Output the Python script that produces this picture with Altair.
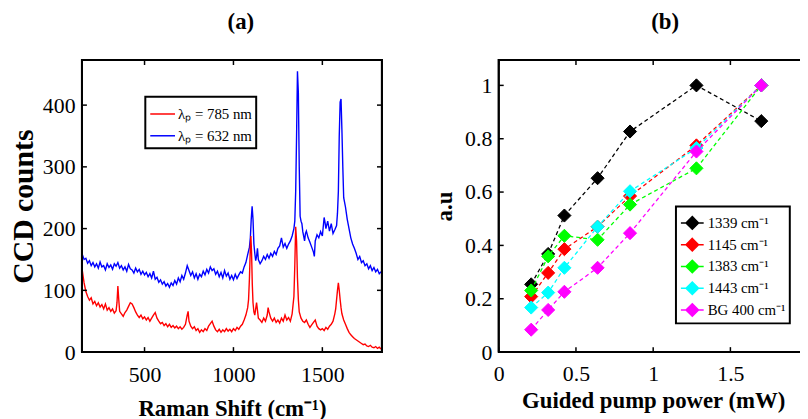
import altair as alt
import pandas as pd

FONT = "Liberation Serif"
INK = "#000000"

# ---------------- Panel (a): Raman spectra ----------------
red_shift = [150, 155, 160, 165, 170, 175, 180, 190, 200, 210, 220, 230, 240, 250, 260, 270, 280, 290, 300,
             310, 320, 330, 340, 345, 350, 355, 360, 370, 380, 390, 400, 410, 420, 430, 440, 450, 460, 470,
             480, 490, 500, 510, 520, 530, 540, 550, 560, 570, 580, 590, 600, 610, 620, 630, 640, 650, 660,
             670, 680, 690, 700, 710, 720, 730, 740, 745, 750, 760, 770, 780, 790, 800, 810, 820, 830, 840,
             850, 860, 870, 880, 890, 900, 910, 920, 930, 940, 950, 960, 970, 980, 990, 1000, 1010, 1020,
             1030, 1040, 1050, 1060, 1070, 1080, 1085, 1090, 1095, 1098, 1102, 1106, 1110, 1115, 1120, 1125,
             1130, 1135, 1140, 1150, 1160, 1170, 1180, 1190, 1195, 1200, 1210, 1220, 1230, 1240, 1250, 1260,
             1270, 1280, 1290, 1300, 1310, 1320, 1330, 1340, 1345, 1350, 1355, 1360, 1365, 1370, 1380, 1390,
             1400, 1410, 1420, 1430, 1440, 1450, 1460, 1470, 1480, 1490, 1500, 1510, 1520, 1530, 1540, 1550,
             1560, 1570, 1575, 1580, 1585, 1590, 1595, 1600, 1605, 1610, 1620, 1630, 1640, 1650, 1660, 1670,
             1680, 1690, 1700, 1710, 1720, 1730, 1740, 1750, 1760, 1770, 1780, 1790, 1800, 1810, 1820, 1830]
red_counts = [132, 122, 112, 105, 98, 94, 90, 84, 88, 78, 82, 75, 80, 73, 77, 70, 78, 68, 72,
              66, 70, 63, 67, 80, 107, 85, 66, 62, 58, 64, 68, 74, 80, 78, 72, 65, 60, 56,
              60, 54, 57, 52, 56, 50, 55, 60, 64, 55, 50, 46, 48, 43, 46, 41, 45, 40, 43,
              39, 42, 38, 41, 37, 40, 45, 60, 66, 50, 42, 38, 41, 35, 38, 32, 36, 33, 38,
              35, 42, 46, 50, 42, 36, 33, 37, 32, 36, 33, 38, 34, 37, 33, 38, 35, 40,
              37, 42, 45, 52, 60, 72, 85, 120, 170, 188, 160, 110, 80, 65, 60, 70,
              80, 68, 55, 52, 48, 55, 50, 60, 72, 65, 55, 50, 55, 48, 52, 47,
              55, 50, 60, 52, 56, 50, 62, 90, 140, 203, 180, 120, 85, 65, 55, 50,
              48, 52, 45, 40, 44, 48, 52, 42, 38, 36, 38, 35, 40, 37, 42, 45,
              50, 62, 70, 85, 100, 112, 100, 85, 72, 62, 52, 45, 38, 32, 28, 25,
              22, 20, 18, 16, 14, 12, 13, 10, 9, 11, 8, 7, 9, 6, 8, 5]

blue_shift = [150, 160, 170, 180, 190, 200, 210, 220, 230, 240, 250, 260, 270, 280, 290, 300, 310, 320, 330,
              340, 350, 360, 370, 380, 390, 400, 410, 420, 430, 440, 450, 460, 470, 480, 490, 500, 510, 520,
              530, 540, 550, 560, 570, 580, 590, 600, 610, 620, 630, 640, 650, 660, 670, 680, 690, 700, 710,
              720, 730, 740, 750, 760, 770, 780, 790, 800, 810, 820, 830, 840, 850, 860, 870, 880, 890, 900,
              910, 920, 930, 940, 950, 960, 970, 980, 990, 1000, 1010, 1020, 1030, 1040, 1050, 1060, 1070,
              1080, 1090, 1095, 1100, 1105, 1110, 1115, 1120, 1125, 1130, 1135, 1140, 1150, 1160, 1170, 1180,
              1190, 1200, 1210, 1220, 1230, 1240, 1250, 1260, 1270, 1280, 1290, 1300, 1310, 1320, 1330, 1340,
              1345, 1350, 1355, 1360, 1365, 1370, 1375, 1380, 1385, 1390, 1400, 1405, 1410, 1420, 1430, 1440,
              1450, 1455, 1460, 1470, 1480, 1490, 1500, 1510, 1515, 1520, 1530, 1540, 1550, 1560, 1570, 1580,
              1585, 1590, 1595, 1600, 1605, 1610, 1615, 1620, 1630, 1640, 1650, 1660, 1670, 1680, 1690, 1700,
              1710, 1720, 1730, 1740, 1750, 1760, 1770, 1780, 1790, 1800, 1810, 1820, 1830]
blue_counts = [158, 150, 152, 144, 148, 140, 145, 138, 143, 136, 146, 138, 140, 133, 143, 137, 141, 134, 143,
               139, 145, 136, 140, 133, 138, 131, 142, 135, 133, 128, 136, 130, 134, 126, 131, 125, 129, 122,
               127, 120, 131, 118, 121, 113, 117, 110, 114, 107, 111, 105, 112, 108, 116, 110, 120, 114, 124,
               118, 128, 140, 132, 124, 130, 120, 127, 118, 126, 122, 131, 125, 134, 128, 138, 132, 135, 126,
               131, 122, 129, 120, 132, 123, 128, 118, 124, 117, 126, 119, 125, 130, 128, 138, 145,
               158, 170, 185, 215, 236, 215, 175, 160, 148, 155, 168, 150, 143, 148, 155, 150,
               158, 152, 160, 155, 163, 158, 168, 172, 185, 170, 176, 168, 175, 180, 188, 200,
               212, 260, 350, 455, 420, 300, 220, 212, 208, 195, 180, 192, 196, 185, 178, 170,
               162, 155, 180, 190, 185, 195, 188, 218, 210, 200, 212, 196, 208, 192, 198, 205,
               225, 260, 350, 405, 410, 360, 300, 250, 235, 215, 200, 185, 175, 168, 160, 150,
               155, 145, 148, 140, 143, 135, 140, 132, 137, 130, 134, 127, 130]

series_a = ["λₚ = 785 nm", "λₚ = 632 nm"]
colors_a = ["#ff0000", "#0000ff"]
a_xdomain = [148, 1835]
a_ydomain = [0, 473]
a_xticks = [500, 1000, 1500]
a_yticks = [0, 100, 200, 300, 400]

# ---------------- Panel (b): power dependence ----------------
power = [0.21, 0.32, 0.425, 0.64, 0.85, 1.28, 1.70]
peak_1339 = [0.254, 0.368, 0.512, 0.652, 0.827, 1.0, 0.866]
peak_1145 = [0.208, 0.297, 0.386, 0.47, 0.585, 0.775, 1.0]
peak_1383 = [0.231, 0.359, 0.436, 0.421, 0.553, 0.689, 1.0]
peak_1443 = [0.167, 0.223, 0.316, 0.470, 0.603, 0.765, 1.0]
peak_bg400 = [0.084, 0.158, 0.226, 0.316, 0.446, 0.752, 1.0]
series_b = ["1339 cm⁻¹", "1145 cm⁻¹", "1383 cm⁻¹", "1443 cm⁻¹", "BG 400 cm⁻¹"]
colors_b = ["#000000", "#ff0000", "#00ff00", "#00ffff", "#ff00ff"]
b_xdomain = [0, 2]
b_ydomain = [0, 1.095]
b_xticks = [0, 0.5, 1, 1.5, 2]
b_yticks = [0, 0.2, 0.4, 0.6, 0.8, 1.0]

BOX_KEY = "box"          # the axes box shares the series colour scale, mapped to black
W_A, H_A = 303, 295
W_B, H_B = 312, 295
TICK = 5

SCALE_AX = alt.Scale(domain=a_xdomain, nice=False, zero=False)
SCALE_AY = alt.Scale(domain=a_ydomain, nice=False)
SCALE_BX = alt.Scale(domain=b_xdomain, nice=False)
SCALE_BY = alt.Scale(domain=b_ydomain, nice=False)


def box_frames(xf, yf, keyf, xdom, ydom, xticks, yticks, w, h):
    """Data for the axes box (along the scale domain) and for inward-pointing tick marks."""
    frame = pd.DataFrame({xf: [xdom[0], xdom[1], xdom[1], xdom[0], xdom[0]],
                          yf: [ydom[0], ydom[0], ydom[1], ydom[1], ydom[0]],
                          "i": list(range(5)), "seg": "frame", keyf: BOX_KEY})
    dx = TICK * (xdom[1] - xdom[0]) / w
    dy = TICK * (ydom[1] - ydom[0]) / h
    rows = []
    for v in xticks:
        rows += [(f"b{v}", 0, v, ydom[0]), (f"b{v}", 1, v, ydom[0] + dy),
                 (f"t{v}", 0, v, ydom[1]), (f"t{v}", 1, v, ydom[1] - dy)]
    for u in yticks:
        rows += [(f"l{u}", 0, xdom[0], u), (f"l{u}", 1, xdom[0] + dx, u),
                 (f"r{u}", 0, xdom[1], u), (f"r{u}", 1, xdom[1] - dx, u)]
    ticks = pd.DataFrame(rows, columns=["seg", "i", xf, yf])
    ticks[keyf] = BOX_KEY
    return frame, ticks


# ---------- build (a) ----------
df_a = pd.concat([
    pd.DataFrame({"shift": red_shift, "counts": red_counts, "series": series_a[0]}),
    pd.DataFrame({"shift": blue_shift, "counts": blue_counts, "series": series_a[1]}),
])

xa = alt.X("shift:Q", scale=SCALE_AX,
           axis=alt.Axis(orient="bottom", values=a_xticks, format="d", title="Raman Shift (cm⁻¹)",
                         labelPadding=12.5, titlePadding=12.5))
ya = alt.Y("counts:Q", scale=SCALE_AY,
           axis=alt.Axis(orient="left", values=a_yticks, format="d", title="CCD counts", titleFontSize=30,
                         labelPadding=7, titlePadding=4))
xa_n = alt.X("shift:Q", scale=SCALE_AX, axis=None)
ya_n = alt.Y("counts:Q", scale=SCALE_AY, axis=None)
color_a = alt.Color("series:N", scale=alt.Scale(domain=series_a + [BOX_KEY], range=colors_a + [INK]),
                    legend=alt.Legend(title=None, orient="none", legendX=64, legendY=37, values=series_a,
                                      fillColor="white", strokeColor=INK, padding=4,
                                      symbolType="stroke", symbolSize=625, symbolStrokeWidth=1.5,
                                      labelFont=FONT, labelFontSize=15, labelColor=INK,
                                      labelOffset=2, rowPadding=0))

blue_layer = alt.Chart(df_a).transform_filter(alt.datum.series == series_a[1]).mark_line(
    strokeWidth=1.4, clip=True).encode(x=xa, y=ya, color=color_a)
red_layer = alt.Chart(df_a).transform_filter(alt.datum.series == series_a[0]).mark_line(
    strokeWidth=1.4, clip=True).encode(x=xa_n, y=ya_n, color=color_a)

frame_a, ticks_a = box_frames("shift", "counts", "series", a_xdomain, a_ydomain, a_xticks, a_yticks, W_A, H_A)
ticks_a_layer = alt.Chart(ticks_a).mark_line(strokeWidth=1.5).encode(
    x=xa_n, y=ya_n, color=color_a, detail="seg:N", order=alt.Order("i:Q"))
frame_a_layer = alt.Chart(frame_a).mark_line(strokeWidth=2).encode(
    x=xa_n, y=ya_n, color=color_a, detail="seg:N", order=alt.Order("i:Q"))

panel_a = alt.layer(blue_layer, red_layer, ticks_a_layer, frame_a_layer).resolve_axis(
    x="independent", y="independent").properties(
    width=W_A, height=H_A,
    title=alt.TitleParams("(a)", font=FONT, fontSize=23, fontWeight="bold", color=INK,
                          anchor="middle", frame="group", offset=22, dx=9),
)

# ---------- build (b) ----------
df_b = pd.concat([
    pd.DataFrame({"power": power, "value": vals, "peak": name})
    for name, vals in zip(series_b, [peak_1339, peak_1145, peak_1383, peak_1443, peak_bg400])
])

xb_axis = alt.Axis(orient="bottom", values=b_xticks, format="~g", title="Guided pump power (mW)",
                   labelPadding=11.5, titlePadding=5)
yb_axis = alt.Axis(orient="left", values=b_yticks, format="~g", title="a.u", labelPadding=7, titlePadding=8)

legend_b = alt.Legend(title=None, orient="none", legendX=600, legendY=148, values=series_b,
                      fillColor="white", strokeColor=INK, padding=4,
                      symbolType="M-1,0L1,0M0,-0.55L0.55,0L0,0.55L-0.55,0Z", symbolSize=529,
                      symbolStrokeWidth=1.5, labelFont=FONT, labelFontSize=15, labelColor=INK,
                      labelOffset=3, rowPadding=0)
scale_b = alt.Scale(domain=series_b + [BOX_KEY], range=colors_b + [INK])
fill_b = alt.Fill("peak:N", scale=scale_b, legend=legend_b)
stroke_b = alt.Stroke("peak:N", scale=scale_b, legend=legend_b)
xb_n = alt.X("power:Q", scale=SCALE_BX, axis=None)
yb_n = alt.Y("value:Q", scale=SCALE_BY, axis=None)

layers_b = []
for i, name in enumerate(series_b):
    sub = alt.Chart(df_b).transform_filter(alt.datum.peak == name)
    xb = alt.X("power:Q", scale=SCALE_BX, axis=xb_axis if i == 0 else None)
    yb = alt.Y("value:Q", scale=SCALE_BY, axis=yb_axis if i == 0 else None)
    layers_b.append(sub.mark_line(strokeDash=[4, 3], strokeWidth=1.3).encode(
        x=xb, y=yb, stroke=stroke_b))
    layers_b.append(sub.mark_point(shape="diamond", size=175, filled=True, opacity=1, strokeWidth=1).encode(
        x=xb_n, y=yb_n, fill=fill_b, stroke=stroke_b))

frame_b, ticks_b = box_frames("power", "value", "peak", b_xdomain, b_ydomain, b_xticks, b_yticks, W_B, H_B)
layers_b.append(alt.Chart(ticks_b).mark_line(strokeWidth=1.5).encode(
    x=xb_n, y=yb_n, stroke=stroke_b, detail="seg:N", order=alt.Order("i:Q")))
layers_b.append(alt.Chart(frame_b).mark_line(strokeWidth=2).encode(
    x=xb_n, y=yb_n, stroke=stroke_b, detail="seg:N", order=alt.Order("i:Q")))

panel_b = alt.layer(*layers_b).resolve_axis(x="independent", y="independent").properties(
    width=W_B, height=H_B,
    title=alt.TitleParams("(b)", font=FONT, fontSize=23, fontWeight="bold", color=INK,
                          anchor="middle", frame="group", offset=22, dx=12),
)

# Plot origin of panel (a) sits at (left, top) padding; the rest is clipped at the page edge like the original.
chart = alt.hconcat(panel_a, panel_b, spacing=46).properties(
    autosize=alt.AutoSizeParams(type="none"),
    padding={"left": 74.7, "top": 49, "right": 725.3, "bottom": 362},
    background="white",
).configure_view(
    stroke=INK, strokeWidth=2
).configure_axis(
    domain=False, ticks=False, grid=False,
    labelFont=FONT, labelFontSize=22, labelColor=INK, labelFlush=False, labelOverlap=False,
    titleFont=FONT, titleFontSize=23, titleFontWeight="bold", titleColor=INK,
).configure_legend(
    strokeWidth=2, cornerRadius=0
)

chart.save("out.html", embed_options={"renderer": "svg", "actions": False})
